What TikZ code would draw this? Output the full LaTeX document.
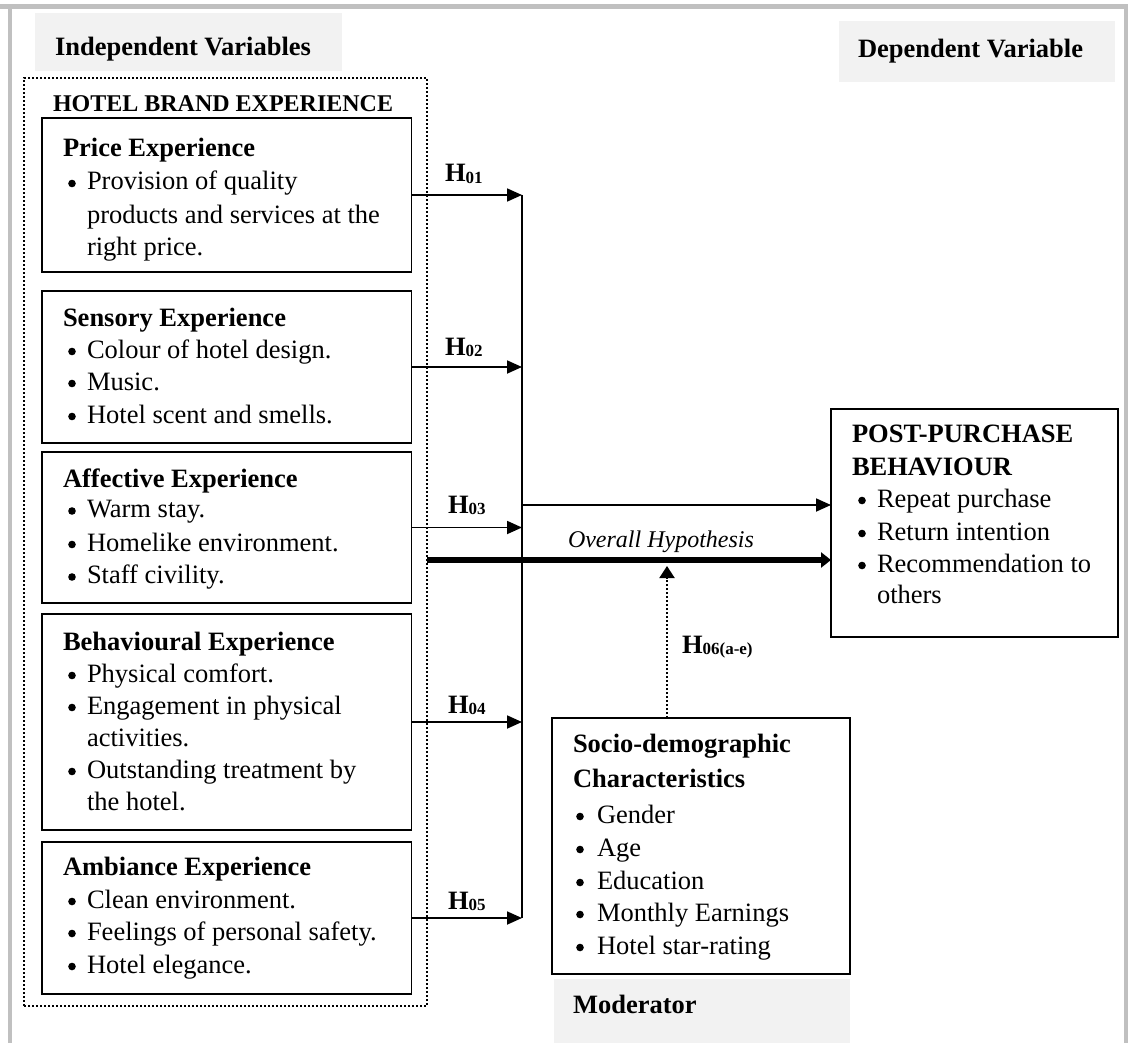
\documentclass[tikz,border=0pt]{standalone}
\usepackage{fontspec}
\setmainfont{Liberation Serif}
\usetikzlibrary{arrows.meta,fit}
\definecolor{framegray}{RGB}{192,192,192}
\definecolor{labelfill}{RGB}{242,242,242}
\tikzset{
  boxst/.style={draw=black, line width=0.8pt, rectangle, inner sep=0pt, outer sep=0pt},
  lblbox/.style={fill=labelfill, draw=none, rectangle, inner sep=0pt, outer sep=0pt},
  dotbox/.style={draw=black, line width=1pt, dash pattern=on 1pt off 1pt, rectangle, inner sep=0pt, outer sep=0pt},
  txt/.style={inner sep=0pt, outer sep=0pt, anchor=base west, font=\fontsize{13.25}{16}\selectfont},
  hdr/.style={txt, font=\fontsize{13.25}{16}\selectfont\bfseries},
  arr/.style={line width=0.9pt, -{Triangle[length=7.5pt,width=6.5pt]}},
  thickarr/.style={line width=3.3pt, -{Triangle[length=5pt,width=7.5pt]}},
  dotarr/.style={line width=1pt, dash pattern=on 1pt off 1pt, -{Triangle[length=6pt,width=7.5pt]}},
  trunkline/.style={line width=0.9pt},
}
\newcommand\hlab[1]{\textbf{H}\raisebox{-0.6pt}{\fontsize{8.5}{9}\selectfont\bfseries #1}}
% #1 name, #2 bullet centre x, #3 baseline y, #4 text x, #5 text
\newcommand\bitem[5]{\fill[black] (#2,#3-6.5) circle (3.8); \node[txt] (#1) at (#4,#3) {#5};}
\begin{document}
\begin{tikzpicture}[x=0.5pt,y=-0.5pt]
\useasboundingbox (0,0) rectangle (1128,1043);
% page frame
\fill[framegray] (0,4) rectangle (1128,9.5);
\fill[framegray] (8,4) rectangle (12,1043);
\fill[framegray] (1124,4) rectangle (1128,1043);
% header labels
\node[lblbox, fit={(35,13) (342,71)}] (indepbox) {};
\node[hdr] (indep) at (55,56) {Independent Variables};
\node[lblbox, fit={(839,21) (1115,82)}] (depbox) {};
\node[hdr] (dep) at (858,58) {Dependent Variable};
% dotted group
\node[dotbox, fit={(24,78) (427,1006)}] (group) {};
\node[txt, font=\fontsize{12}{14}\selectfont\bfseries] (hbe) at (53,112) {HOTEL BRAND EXPERIENCE};
% boxes
\node[boxst, fit={(42,118) (411.5,272)}] (price) {};
\node[boxst, fit={(42,291) (411.5,443)}] (sensory) {};
\node[boxst, fit={(42,452) (411.5,603)}] (affective) {};
\node[boxst, fit={(42,614) (411.5,830)}] (behav) {};
\node[boxst, fit={(42,842) (411.5,994)}] (ambiance) {};
\node[boxst, fit={(831,409) (1118,637)}] (post) {};
\node[boxst, fit={(552,718) (850,974)}] (socio) {};
\node[lblbox, fit={(554,979) (850,1043)}] (modbox) {};
% price
\node[hdr] (priceh) at (63,157) {Price Experience};
\bitem{p1}{72}{190}{87}{Provision of quality}
\node[txt] (p2) at (87,223) {products and services at the};
\node[txt] (p3) at (87,256) {right price.};
% sensory
\node[hdr] (sensh) at (63,326) {Sensory Experience};
\bitem{s1}{72}{358}{87}{Colour of hotel design.}
\bitem{s2}{72}{390}{87}{Music.}
\bitem{s3}{72}{423}{87}{Hotel scent and smells.}
% affective
\node[hdr] (affh) at (63,487) {Affective Experience};
\bitem{a1}{72}{517.5}{87}{Warm stay.}
\bitem{a2}{72}{551}{87}{Homelike environment.}
\bitem{a3}{72}{583.5}{87}{Staff civility.}
% behavioural
\node[hdr] (behh) at (63,650) {Behavioural Experience};
\bitem{b1}{72}{682}{87}{Physical comfort.}
\bitem{b2}{72}{714}{87}{Engagement in physical}
\node[txt] (b3) at (87,746) {activities.};
\bitem{b4}{72}{778}{87}{Outstanding treatment by}
\node[txt] (b5) at (87,810) {the hotel.};
% ambiance
\node[hdr] (ambh) at (63,875) {Ambiance Experience};
\bitem{m1}{72}{908}{87}{Clean environment.}
\bitem{m2}{72}{940}{87}{Feelings of personal safety.}
\bitem{m3}{72}{973}{87}{Hotel elegance.}
% post-purchase
\node[hdr] (posth1) at (852,442) {POST-PURCHASE};
\node[hdr] (posth2) at (852,475) {BEHAVIOUR};
\bitem{q1}{862}{507}{877}{Repeat purchase}
\bitem{q2}{862}{540}{877}{Return intention}
\bitem{q3}{862}{572}{877}{Recommendation to}
\node[txt] (q4) at (877,603) {others};
% socio
\node[hdr] (soch1) at (573,752) {Socio-demographic};
\node[hdr] (soch2) at (573,787) {Characteristics};
\bitem{c1}{580}{823}{597}{Gender}
\bitem{c2}{580}{856}{597}{Age}
\bitem{c3}{580}{889}{597}{Education}
\bitem{c4}{580}{921}{597}{Monthly Earnings}
\bitem{c5}{580}{954}{597}{Hotel star-rating}
\node[hdr] (modt) at (573,1013) {Moderator};
% connectors
\coordinate (trunk) at (522,0);
\draw[arr] (price.east) -- (price.east -| trunk);
\draw[arr] (sensory.east) -- (sensory.east -| trunk);
\draw[arr] (affective.east) -- (affective.east -| trunk);
\draw[arr] (behav.east) -- (behav.east -| trunk);
\draw[arr] (ambiance.east) -- (ambiance.east -| trunk);
\draw[trunkline] (price.east -| trunk) -- (ambiance.east -| trunk);
\coordinate (tout) at (522,505);
\draw[arr] (tout) -- (tout -| post.west);
\coordinate (ohs) at (427,560);
\draw[thickarr] (ohs) -- (ohs -| post.west);
\coordinate (modtop) at (667,718);
\coordinate (modtip) at (667,566);
\draw[dotarr] (modtop) -- (modtip);
% labels
\node[txt] (h1) at (445,182) {\hlab{01}};
\node[txt] (h2) at (445,355) {\hlab{02}};
\node[txt] (h3) at (448,513) {\hlab{03}};
\node[txt] (h4) at (448,713) {\hlab{04}};
\node[txt] (h5) at (448,909) {\hlab{05}};
\node[txt] (h6) at (682,653) {\hlab{06(a-e)}};
\node[txt, font=\fontsize{12}{14}\selectfont\itshape] (ovh) at (568,547) {Overall Hypothesis};
\end{tikzpicture}
\end{document}
